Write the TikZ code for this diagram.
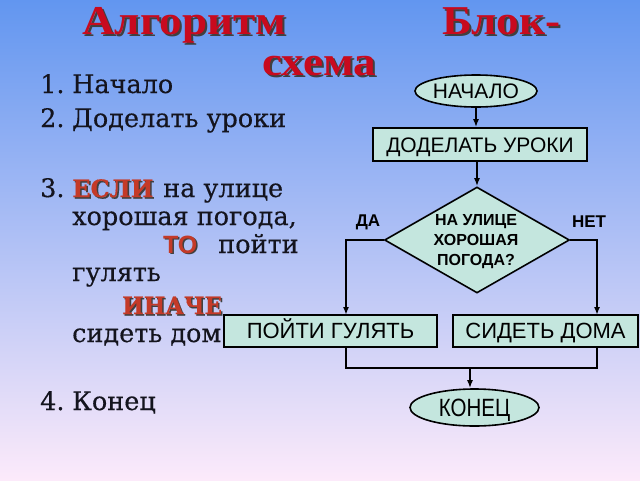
\documentclass[tikz,border=0pt]{standalone}
\usepackage{fontspec}
\setmainfont[FakeBold=0.4]{DejaVu Serif}
\newfontfamily\titlefont[FakeStretch=1.1]{Liberation Serif}
\newfontfamily\flowfont{Liberation Sans}
\usetikzlibrary{shapes.geometric,arrows.meta}
\definecolor{bgtop}{RGB}{98,150,240}
\definecolor{bgmid}{RGB}{184,200,244}
\definecolor{bgbot}{RGB}{252,234,250}
\definecolor{boxfill}{RGB}{196,230,222}
\definecolor{titlered}{RGB}{200,10,30}
\definecolor{kwred}{RGB}{196,58,40}
\definecolor{txt}{RGB}{20,20,30}
\newcommand{\shadowed}[2]{\makebox[0pt][l]{\hspace*{#1}\raisebox{-#1}{\textcolor{black!75}{#2}}}#2}
\tikzset{
  ttl/.style={inner sep=0pt,anchor=base west,font=\titlefont\bfseries\fontsize{41}{45}\selectfont,text=titlered},
  lst/.style={inner sep=0pt,anchor=base west,font=\fontsize{25.5}{28}\selectfont,text=txt},
  kw/.style={inner sep=0pt,anchor=base west,font=\bfseries\fontsize{24}{28}\selectfont,text=kwred},
  fbox/.style={draw=black,line width=1.6pt,fill=boxfill,inner sep=0pt,font=\flowfont\fontsize{21}{24}\selectfont,text height=15pt,text depth=0pt},
  fell/.style={fbox,ellipse},
  conn/.style={draw=black,line width=1.6pt},
  arr/.style={conn,-{Latex[length=8pt,width=6pt]}},
  lbl/.style={inner sep=0pt,font=\flowfont\bfseries\fontsize{17}{19}\selectfont}
}
\begin{document}
\begin{tikzpicture}[x=1pt,y=-1pt]
\useasboundingbox (0,0) rectangle (640,480);
\shade[top color=bgtop,middle color=bgmid,bottom color=bgbot] (0,0) rectangle (640,480);

% titles
\node[ttl] (t1) at (82,34) {\shadowed{2pt}{Алгоритм}};
\node[ttl] (t2) at (442,34) {\shadowed{2pt}{Блок-}};
\node[ttl] (t3) at (262,75) {\shadowed{2pt}{схема}};

% list
\node[lst] (n1) at (40,93) {1.};
\node[lst] (l1) at (72,93) {Начало};
\node[lst] (n2) at (40,127) {2.};
\node[lst] (l2) at (72,127) {Доделать уроки};
\node[lst] (n3) at (40,197) {3.};
\node[kw] (k1) at (72,197) {\shadowed{1.5pt}{ЕСЛИ}};
\node[lst] (l3a) at (163,197) {на улице};
\node[lst] (l3b) at (72,225) {хорошая погода,};
\node[kw,font=\flowfont\bfseries\fontsize{25}{28}\selectfont] (k2) at (163,253) {\shadowed{1.5pt}{ТО}};
\node[lst] (l3c) at (218,253) {пойти};
\node[lst] (l3d) at (72,281) {гулять};
\node[kw] (k3) at (122,314) {\scalebox{0.95}[1]{\shadowed{1.5pt}{ИНАЧЕ}}};
\node[lst] (l3e) at (72,342) {сидеть дом};
\node[lst] (n4) at (40,410) {4.};
\node[lst] (l4) at (72,410) {Конец};

% flowchart
\node[fell,minimum width=122pt,minimum height=32pt] (start) at (476,91) {НАЧАЛО};
\node[fbox,minimum width=214pt,minimum height=33pt] (do) at (480,144.5) {ДОДЕЛАТЬ УРОКИ};
\node[fbox,diamond,minimum width=185pt,minimum height=106pt] (dec) at (477,240) {};
\node[inner sep=0pt,align=center,font=\flowfont\bfseries\fontsize{16}{20}\selectfont] (dect) at (476,242) {НА УЛИЦЕ\\ХОРОШАЯ\\ПОГОДА?};
\node[lbl] (yes) at (368,222) {ДА};
\node[lbl] (no) at (589,222) {НЕТ};
\node[fbox,minimum width=213pt,minimum height=32pt,font=\flowfont\fontsize{22}{24}\selectfont,text height=15.8pt] (go) at (330.5,331) {ПОЙТИ ГУЛЯТЬ};
\node[fbox,minimum width=185pt,minimum height=32pt,font=\flowfont\fontsize{22}{24}\selectfont,text height=15.8pt] (stay) at (545.5,331) {СИДЕТЬ ДОМА};
\node[fell,minimum width=129pt,minimum height=37pt,text height=18pt] (end) at (474.5,407.5) {\fontsize{25}{28}\selectfont\scalebox{0.82}[1]{КОНЕЦ}};

\coordinate (goin) at (346,315);
\coordinate (stayin) at (597,315);
\coordinate (goout) at (346,347);
\coordinate (stayout) at (597,347);
\coordinate (mj) at (470,368);

\draw[arr] (start.south) -- (start.south |- do.north);
\draw[arr] (dec.north |- do.south) -- (dec.north);
\draw[arr] (dec.west) -| (goin);
\draw[arr] (dec.east) -| (stayin);
\draw[conn] (goout) |- (stayout |- mj) -- (stayout);
\draw[arr] (mj) -- (mj |- end.north);
\end{tikzpicture}
\end{document}
